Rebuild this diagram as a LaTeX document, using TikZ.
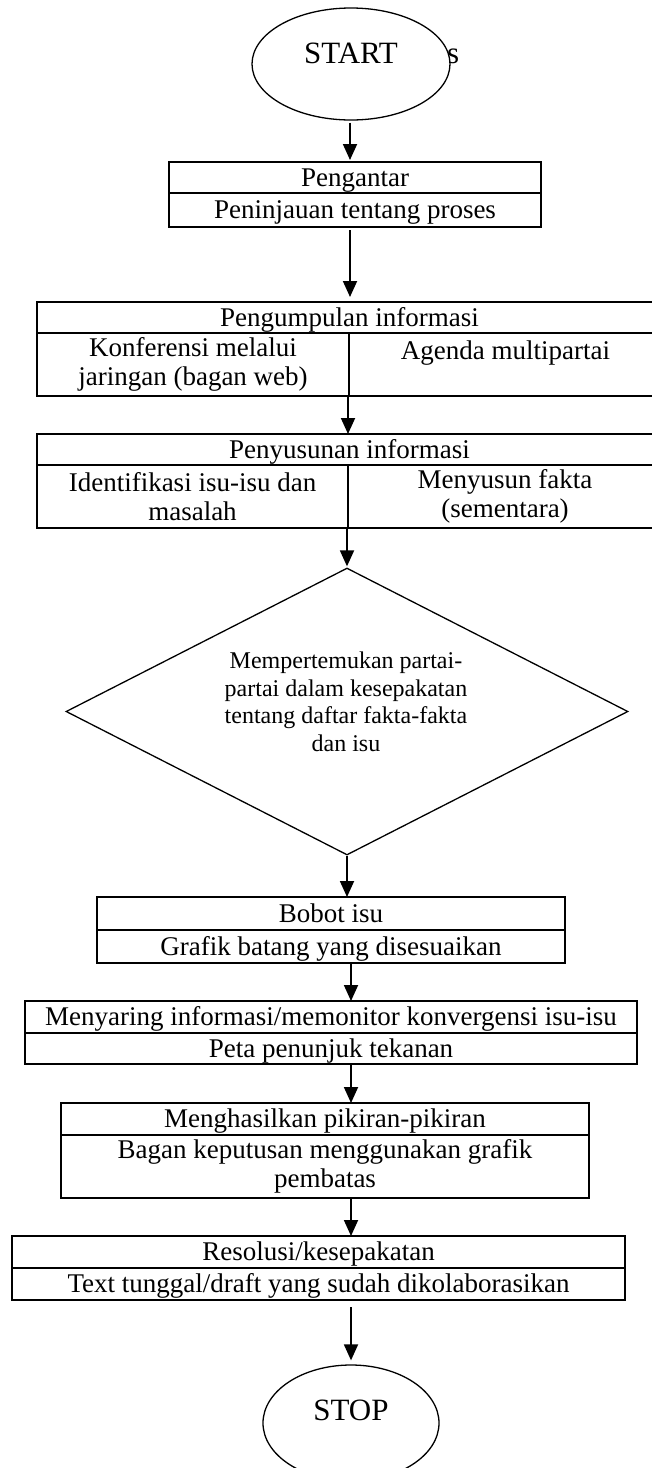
\documentclass[tikz,border=0pt]{standalone}
\usepackage{fontspec}
\setmainfont{Liberation Serif}
\usetikzlibrary{arrows.meta,shapes.geometric}
\begin{document}
\begin{tikzpicture}[x=1pt,y=1pt,
  cell/.style={draw, line width=1.8pt, inner sep=0pt, outer sep=0pt, anchor=north west,
    align=center, font=\fontsize{27}{28.5}\selectfont},
  one/.style={text height=21pt, text depth=4pt},
  arr/.style={line width=1.8pt, -{Triangle[length=16pt,width=14pt]}},
  term/.style={ellipse, draw, line width=1.3pt, fill=white, inner sep=0pt,
    font=\fontsize{31}{34}\selectfont},
  dec/.style={diamond, draw, line width=1.3pt, inner sep=0pt},
  dectext/.style={align=center, font=\fontsize{24}{27.5}\selectfont, inner sep=0pt}
]
\useasboundingbox (0,0) rectangle (652,-1468);

% arrow columns
\coordinate (xa) at (350,0);
\coordinate (xb) at (348,0);
\coordinate (xc) at (347,0);
\coordinate (xd) at (351,0);

% START
\node[anchor=base west, inner sep=0pt, font=\fontsize{31}{34}\selectfont] (s) at (447,-63) {s};
\node[term, minimum width=198pt, minimum height=112pt, text height=22pt, text depth=24pt] (start) at (351,-64) {START};

% Box 1
\node[cell, one, minimum width=372pt, minimum height=31pt] (b1h) at (169,-162) {Pengantar};
\node[cell, one, minimum width=372pt, minimum height=34pt] (b1b) at (169,-193) {Peninjauan tentang proses};

% Box 2
\node[cell, one, minimum width=625pt, minimum height=31pt] (b2h) at (37,-302) {Pengumpulan informasi};
\node[cell, minimum width=312pt, minimum height=63pt] (b2l) at (37,-333) {Konferensi melalui\\jaringan (bagan web)};
\node[cell, minimum width=313pt, minimum height=63pt] (b2r) at (349,-333) {};
\node[anchor=base, inner sep=0pt, yshift=-26pt, font=\fontsize{27}{28.5}\selectfont] (b2rt) at (b2r.north) {Agenda multipartai};

% Box 3
\node[cell, one, minimum width=625pt, minimum height=31pt] (b3h) at (37,-434) {Penyusunan informasi};
\node[cell, minimum width=311pt, minimum height=63pt] (b3l) at (37,-465) {Identifikasi isu-isu dan\\masalah};
\node[cell, minimum width=314pt, minimum height=63pt] (b3r) at (348,-465) {Menyusun fakta\\(sementara)};

% Decision
\node[dec, minimum width=562pt, minimum height=287pt] (dia) at (347,-711.5) {};
\node[dectext] (diat) at (346,-702) {Mempertemukan partai-\\partai dalam kesepakatan\\tentang daftar fakta-fakta\\dan isu};

% Box 4
\node[cell, one, minimum width=468pt, minimum height=33pt] (b4h) at (97,-897) {Bobot isu};
\node[cell, one, minimum width=468pt, minimum height=33pt] (b4b) at (97,-930) {Grafik batang yang disesuaikan};

% Box 5
\node[cell, one, minimum width=612pt, minimum height=32pt] (b5h) at (25,-1001) {Menyaring informasi/memonitor konvergensi isu-isu};
\node[cell, one, minimum width=612pt, minimum height=31pt] (b5b) at (25,-1033) {Peta penunjuk tekanan};

% Box 6
\node[cell, one, minimum width=528pt, minimum height=32pt] (b6h) at (61,-1103) {Menghasilkan pikiran-pikiran};
\node[cell, minimum width=528pt, minimum height=63pt] (b6b) at (61,-1135) {Bagan keputusan menggunakan grafik\\pembatas};

% Box 7
\node[cell, one, minimum width=613pt, minimum height=32pt] (b7h) at (12,-1236) {Resolusi/kesepakatan};
\node[cell, one, minimum width=613pt, minimum height=32pt] (b7b) at (12,-1268) {Text tunggal/draft yang sudah dikolaborasikan};

% STOP
\node[term, minimum width=176pt, minimum height=116pt, text height=22pt, text depth=28pt] (stop) at (351,-1423) {STOP};

% connectors
\draw[arr, shorten <=2pt, shorten >=2pt] (xa |- start.south) -- (xa |- b1h.north);
\draw[arr, shorten <=3pt, shorten >=5pt] (xa |- b1b.south) -- (xa |- b2h.north);
\draw[arr] (xb |- b2l.south) -- (xb |- b3h.north);
\draw[arr, shorten >=1pt] (xc |- b3l.south) -- (xc |- dia.north);
\draw[arr] (xc |- dia.south) -- (xc |- b4h.north);
\draw[arr] (xd |- b4b.south) -- (xd |- b5h.north);
\draw[arr] (xd |- b5b.south) -- (xd |- b6h.north);
\draw[arr] (xd |- b6b.south) -- (xd |- b7h.north);
\draw[arr, shorten <=7pt, shorten >=4pt] (xd |- b7b.south) -- (xd |- stop.north);
\end{tikzpicture}
\end{document}
